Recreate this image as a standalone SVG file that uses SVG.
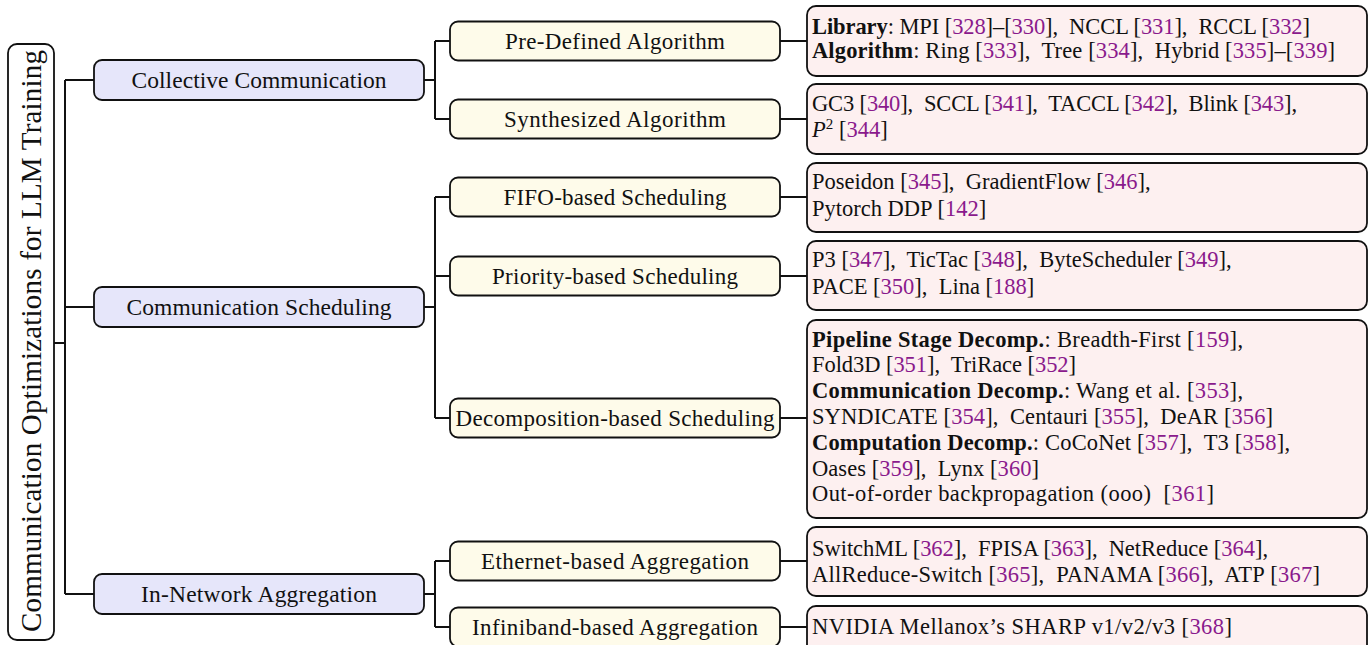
<svg xmlns="http://www.w3.org/2000/svg" width="1369" height="645" viewBox="0 0 1369 645">
  <style>
    text { font-family: "Liberation Serif", "Times New Roman", serif; fill: #111; white-space: pre; }
    .box { stroke: #111; stroke-width: 1.8; }
    .root { fill: #ffffff; }
    .l1 { fill: #e6e6fa; }
    .l2 { fill: #fefbea; }
    .leaf { fill: #fdf0f0; }
    .t1 { font-size: 23.5px; text-anchor: middle; }
    .t2 { font-size: 23px; text-anchor: middle; }
    .tl { font-size: 22.5px; }
    .c { fill: #8a1a8c; }
    .b { font-weight: bold; }
    .edge { fill: none; stroke: #111; stroke-width: 2; }
  </style>

  <!-- connectors -->
  <g id="connectors" class="edge">
    <path d="M54,343 H65 M65,80 V594 M65,80 H94 M65,307 H94 M65,594 H94"/>
    <path d="M424,80 H435 M435,41 V119 M435,41 H450 M435,119 H450"/>
    <path d="M424,307 H435 M435,197 V418 M435,197 H450 M435,276 H450 M435,418 H450"/>
    <path d="M424,594 H435 M435,561 V627 M435,561 H450 M435,627 H450"/>
    <path d="M780,41 H807 M780,119 H807 M780,197 H807 M780,276 H807 M780,418 H807 M780,561 H807 M780,627 H807"/>
  </g>

  <!-- root -->
  <g id="root">
    <rect class="box root" x="8" y="44" width="46" height="596" rx="9"/>
    <text transform="translate(41,341) rotate(-90)" font-size="29" text-anchor="middle" textLength="582">Communication Optimizations for LLM Training</text>
  </g>

  <!-- first level -->
  <g id="collective-communication">
    <rect class="box l1" x="94" y="60" width="330" height="40" rx="8"/>
    <text class="t1" x="259" y="88" textLength="255">Collective Communication</text>
  </g>
  <g id="communication-scheduling">
    <rect class="box l1" x="94" y="287" width="330" height="40" rx="8"/>
    <text class="t1" x="259" y="315" textLength="265">Communication Scheduling</text>
  </g>
  <g id="in-network-aggregation">
    <rect class="box l1" x="94" y="574" width="330" height="40" rx="8"/>
    <text class="t1" x="259" y="602" textLength="236">In-Network Aggregation</text>
  </g>

  <!-- second level -->
  <g id="pre-defined-algorithm">
    <rect class="box l2" x="450" y="21.5" width="330" height="39" rx="8"/>
    <text class="t2" x="615" y="48.5" textLength="220">Pre-Defined Algorithm</text>
  </g>
  <g id="synthesized-algorithm">
    <rect class="box l2" x="450" y="99.5" width="330" height="39" rx="8"/>
    <text class="t2" x="615" y="126.5" textLength="222">Synthesized Algorithm</text>
  </g>
  <g id="fifo-based-scheduling">
    <rect class="box l2" x="450" y="177.5" width="330" height="39" rx="8"/>
    <text class="t2" x="615" y="204.5" textLength="223">FIFO-based Scheduling</text>
  </g>
  <g id="priority-based-scheduling">
    <rect class="box l2" x="450" y="256.5" width="330" height="39" rx="8"/>
    <text class="t2" x="615" y="283.5" textLength="246">Priority-based Scheduling</text>
  </g>
  <g id="decomposition-based-scheduling">
    <rect class="box l2" x="450" y="398.5" width="330" height="39" rx="8"/>
    <text class="t2" x="615" y="425.5" textLength="319">Decomposition-based Scheduling</text>
  </g>
  <g id="ethernet-based-aggregation">
    <rect class="box l2" x="450" y="541.5" width="330" height="39" rx="8"/>
    <text class="t2" x="615" y="568.5" textLength="268">Ethernet-based Aggregation</text>
  </g>
  <g id="infiniband-based-aggregation">
    <rect class="box l2" x="450" y="607.5" width="330" height="39" rx="8"/>
    <text class="t2" x="615" y="634.5" textLength="286">Infiniband-based Aggregation</text>
  </g>

  <!-- leaves -->
  <g id="leaf-pre-defined">
    <rect class="box leaf" x="807" y="6" width="560" height="70" rx="9"/>
    <text class="tl" x="812" y="34" textLength="498"><tspan class="b">Library</tspan>: MPI [<tspan class="c">328</tspan>]–[<tspan class="c">330</tspan>],  NCCL [<tspan class="c">331</tspan>],  RCCL [<tspan class="c">332</tspan>]</text>
    <text class="tl" x="812" y="57.5" textLength="523"><tspan class="b">Algorithm</tspan>: Ring [<tspan class="c">333</tspan>],  Tree [<tspan class="c">334</tspan>],  Hybrid [<tspan class="c">335</tspan>]–[<tspan class="c">339</tspan>]</text>
  </g>
  <g id="leaf-synthesized">
    <rect class="box leaf" x="807" y="84" width="560" height="70" rx="9"/>
    <text class="tl" x="812" y="110.5" textLength="485">GC3 [<tspan class="c">340</tspan>],  SCCL [<tspan class="c">341</tspan>],  TACCL [<tspan class="c">342</tspan>],  Blink [<tspan class="c">343</tspan>],</text>
    <text class="tl" x="812" y="136.5"><tspan font-style="italic">P</tspan><tspan font-size="15" dy="-8">2</tspan><tspan dy="8"> [</tspan><tspan class="c">344</tspan>]</text>
  </g>
  <g id="leaf-fifo">
    <rect class="box leaf" x="807" y="163" width="560" height="69" rx="9"/>
    <text class="tl" x="812" y="189">Poseidon [<tspan class="c">345</tspan>],  GradientFlow [<tspan class="c">346</tspan>],</text>
    <text class="tl" x="812" y="215.5">Pytorch DDP [<tspan class="c">142</tspan>]</text>
  </g>
  <g id="leaf-priority">
    <rect class="box leaf" x="807" y="241" width="560" height="69" rx="9"/>
    <text class="tl" x="812" y="267">P3 [<tspan class="c">347</tspan>],  TicTac [<tspan class="c">348</tspan>],  ByteScheduler [<tspan class="c">349</tspan>],</text>
    <text class="tl" x="812" y="293.5">PACE [<tspan class="c">350</tspan>],  Lina [<tspan class="c">188</tspan>]</text>
  </g>
  <g id="leaf-decomposition">
    <rect class="box leaf" x="807" y="320" width="560" height="198" rx="9"/>
    <text class="tl" x="812" y="346.5" textLength="431"><tspan class="b">Pipeline Stage Decomp.</tspan>: Breadth-First [<tspan class="c">159</tspan>],</text>
    <text class="tl" x="812" y="372.3" textLength="264">Fold3D [<tspan class="c">351</tspan>],  TriRace [<tspan class="c">352</tspan>]</text>
    <text class="tl" x="812" y="398.1" textLength="431"><tspan class="b">Communication Decomp.</tspan>: Wang et al. [<tspan class="c">353</tspan>],</text>
    <text class="tl" x="812" y="423.9" textLength="461">SYNDICATE [<tspan class="c">354</tspan>],  Centauri [<tspan class="c">355</tspan>],  DeAR [<tspan class="c">356</tspan>]</text>
    <text class="tl" x="812" y="449.7" textLength="478"><tspan class="b">Computation Decomp.</tspan>: CoCoNet [<tspan class="c">357</tspan>],  T3 [<tspan class="c">358</tspan>],</text>
    <text class="tl" x="812" y="475.5" textLength="227">Oases [<tspan class="c">359</tspan>],  Lynx [<tspan class="c">360</tspan>]</text>
    <text class="tl" x="812" y="501.3" textLength="402">Out-of-order backpropagation (ooo)  [<tspan class="c">361</tspan>]</text>
  </g>
  <g id="leaf-ethernet">
    <rect class="box leaf" x="807" y="527" width="560" height="69" rx="9"/>
    <text class="tl" x="812" y="556" textLength="456">SwitchML [<tspan class="c">362</tspan>],  FPISA [<tspan class="c">363</tspan>],  NetReduce [<tspan class="c">364</tspan>],</text>
    <text class="tl" x="812" y="582" textLength="508">AllReduce-Switch [<tspan class="c">365</tspan>],  PANAMA [<tspan class="c">366</tspan>],  ATP [<tspan class="c">367</tspan>]</text>
  </g>
  <g id="leaf-infiniband">
    <rect class="box leaf" x="807" y="606" width="560" height="50" rx="9"/>
    <text class="tl" x="812" y="633.5" textLength="420">NVIDIA Mellanox’s SHARP v1/v2/v3 [<tspan class="c">368</tspan>]</text>
  </g>
</svg>
